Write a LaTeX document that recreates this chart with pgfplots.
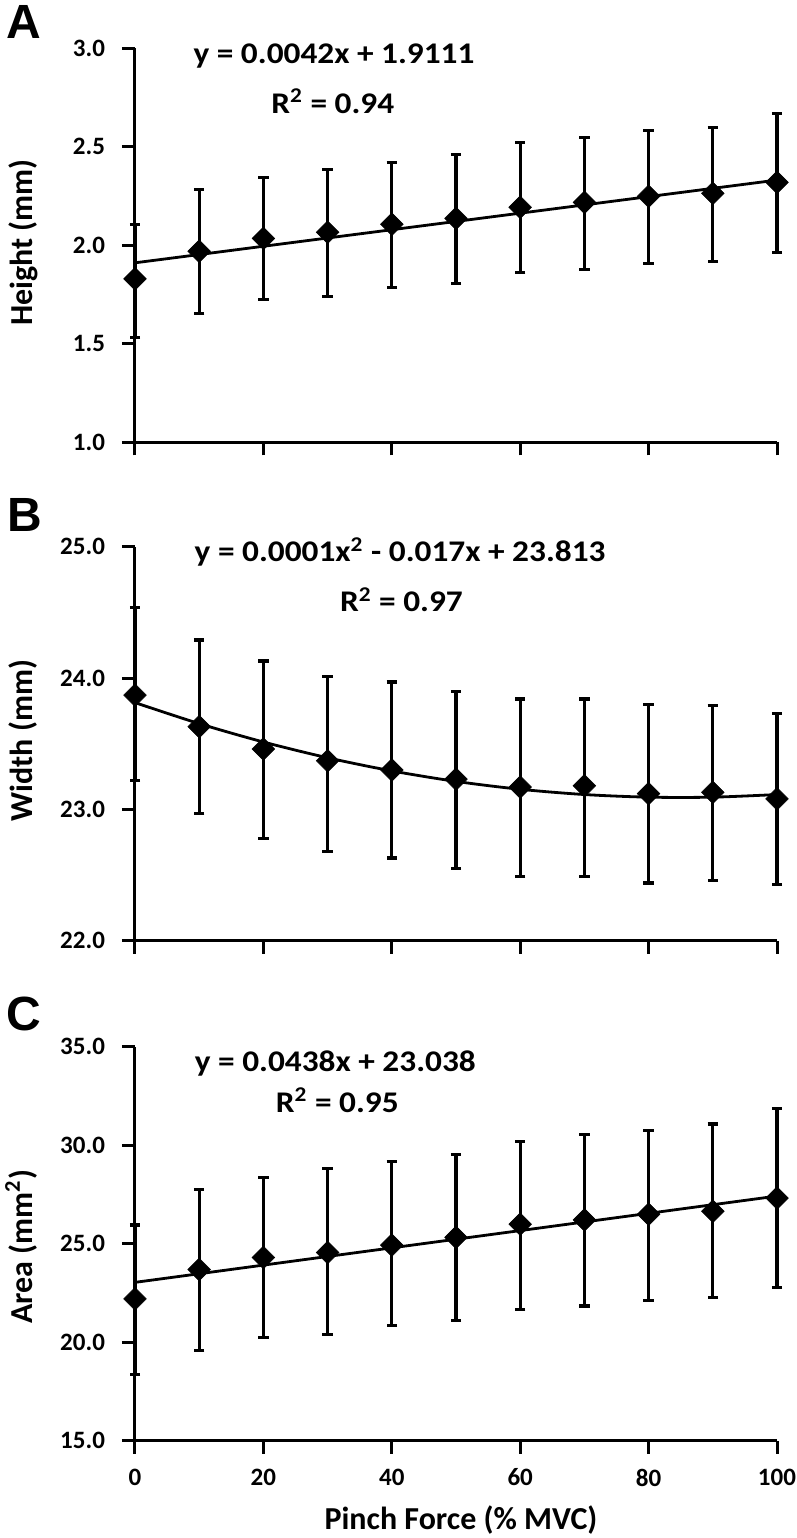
\documentclass[border=0pt]{standalone}
\usepackage{fontspec}
\setmainfont{Carlito}
\newfontfamily\panelfont{Liberation Sans}
\usepackage{pgfplots}
\usepackage{pgfplotstable}
\pgfplotsset{compat=1.18}

\pgfplotstableread{
x y ep em
0 1.83 0.277 0.297
10 1.97 0.314 0.315
20 2.035 0.31 0.309
30 2.066 0.32 0.325
40 2.107 0.313 0.32
50 2.137 0.325 0.33
60 2.193 0.33 0.33
70 2.218 0.33 0.34
80 2.249 0.335 0.34
90 2.264 0.335 0.345
100 2.32 0.35 0.355
}\tabA

\pgfplotstableread{
x y ep em
0 23.87 0.67 0.65
10 23.63 0.66 0.66
20 23.46 0.67 0.68
30 23.37 0.64 0.69
40 23.30 0.67 0.67
50 23.23 0.67 0.68
60 23.17 0.67 0.68
70 23.18 0.66 0.69
80 23.12 0.68 0.68
90 23.13 0.66 0.67
100 23.08 0.65 0.65
}\tabB

\pgfplotstableread{
x y ep em
0 22.20 3.75 3.82
10 23.69 4.05 4.11
20 24.30 4.07 4.05
30 24.55 4.26 4.15
40 24.93 4.24 4.07
50 25.32 4.20 4.21
60 25.99 4.20 4.34
70 26.21 4.32 4.37
80 26.50 4.26 4.38
90 26.65 4.43 4.39
100 27.32 4.53 4.53
}\tabC

\pgfplotsset{
  panel/.style={
    scale only axis, width=321pt, height=197pt,
    xmin=0, xmax=100,
    axis x line*=bottom, axis y line*=left,
    axis line style={line width=1.5pt, black},
    tick align=outside, major tick length=6.5pt,
    tick style={line width=1.5pt, black},
    major tick style={line width=1.5pt, black},
    xtick={0,20,...,100},
    /pgf/number format/assume math mode=true,
    ticklabel style={font=\fontsize{12.5}{14}\selectfont\bfseries},
    yticklabel style={xshift=-5pt, /pgf/number format/.cd, fixed, fixed zerofill, precision=1},
    xticklabel style={yshift=-4pt},
    clip=false,
  },
  datapts/.style={
    only marks, black, mark=square*, mark size=4pt,
    mark options={rotate=45, fill=black, draw=black, line width=0.3pt},
    error bars/.cd, y dir=both, y explicit,
    error bar style={line width=1.6pt, black},
    error mark options={rotate=90, mark size=2.6pt, line width=1.6pt, black},
  },
  trend/.style={black, line width=1.4pt, no markers},
}

\newcommand{\eqfont}{\fontsize{15}{17}\selectfont\bfseries}
\newcommand{\labfont}{\fontsize{16}{19}\selectfont\bfseries}

\begin{document}
\begin{tikzpicture}
\useasboundingbox (0,0) rectangle (398.5pt,-769pt);

% Panel A
\begin{axis}[panel, name=A, at={(67.5pt,-24.15pt)}, anchor=north west,
  ymin=1, ymax=3, ytick={1,1.5,...,3}, xticklabels={}]
  \addplot[datapts] table[x=x, y=y, y error plus=ep, y error minus=em] {\tabA};
  \addplot[trend] coordinates {(0,1.9111) (100,2.3311)};
  \node[anchor=base, font=\eqfont] at (rel axis cs:0.310,0.962) {\scalebox{1.11}[1]{y = 0.0042x + 1.9111}};
  \node[anchor=base, font=\eqfont] at (rel axis cs:0.308,0.835) {\scalebox{1.11}[1]{R\textsuperscript{2} = 0.94}};
\end{axis}

% Panel B
\begin{axis}[panel, name=B, at={(67.5pt,-273.35pt)}, anchor=north west,
  ymin=22, ymax=25, ytick={22,23,24,25}, xticklabels={}]
  \addplot[datapts] table[x=x, y=y, y error plus=ep, y error minus=em] {\tabB};
  \addplot[trend, smooth] coordinates {(0,23.813) (10,23.653) (20,23.513) (30,23.393) (40,23.293) (50,23.213) (60,23.153) (70,23.113) (80,23.093) (90,23.093) (100,23.113)};
  \node[anchor=base, font=\eqfont] at (rel axis cs:0.413,0.962) {\scalebox{1.11}[1]{y = 0.0001x\textsuperscript{2} - 0.017x + 23.813}};
  \node[anchor=base, font=\eqfont] at (rel axis cs:0.415,0.835) {\scalebox{1.11}[1]{R\textsuperscript{2} = 0.97}};
\end{axis}

% Panel C
\begin{axis}[panel, name=C, at={(67.5pt,-523.35pt)}, anchor=north west,
  ymin=15, ymax=35, ytick={15,20,...,35}]
  \addplot[datapts] table[x=x, y=y, y error plus=ep, y error minus=em] {\tabC};
  \addplot[trend] coordinates {(0,23.038) (100,27.418)};
  \node[anchor=base, font=\eqfont] at (rel axis cs:0.312,0.936) {\scalebox{1.11}[1]{y = 0.0438x + 23.038}};
  \node[anchor=base, font=\eqfont] at (rel axis cs:0.315,0.834) {\scalebox{1.11}[1]{R\textsuperscript{2} = 0.95}};
\end{axis}

% axis labels
\node[rotate=90, anchor=base, font=\labfont] at ([xshift=-51.25pt,yshift=1.5pt]A.west) {Height (mm)};
\node[rotate=90, anchor=base, font=\labfont] at ([xshift=-51.25pt,yshift=1.5pt]B.west) {Width (mm)};
\node[rotate=90, anchor=base, font=\labfont] at ([xshift=-51.25pt,yshift=-1.5pt]C.west) {Area (mm\textsuperscript{2})};
\node[anchor=base, font=\labfont] at (230.5pt,-764.5pt) {Pinch Force (\% MVC)};

% panel letters
\node[anchor=base west, inner sep=0pt, font=\fontsize{24}{28}\selectfont\panelfont\bfseries] at (3pt,-19pt) {A};
\node[anchor=base west, inner sep=0pt, font=\fontsize{24}{28}\selectfont\panelfont\bfseries] at (3.5pt,-265.5pt) {B};
\node[anchor=base west, inner sep=0pt, font=\fontsize{24}{28}\selectfont\panelfont\bfseries] at (3pt,-515pt) {C};
\end{tikzpicture}
\end{document}
